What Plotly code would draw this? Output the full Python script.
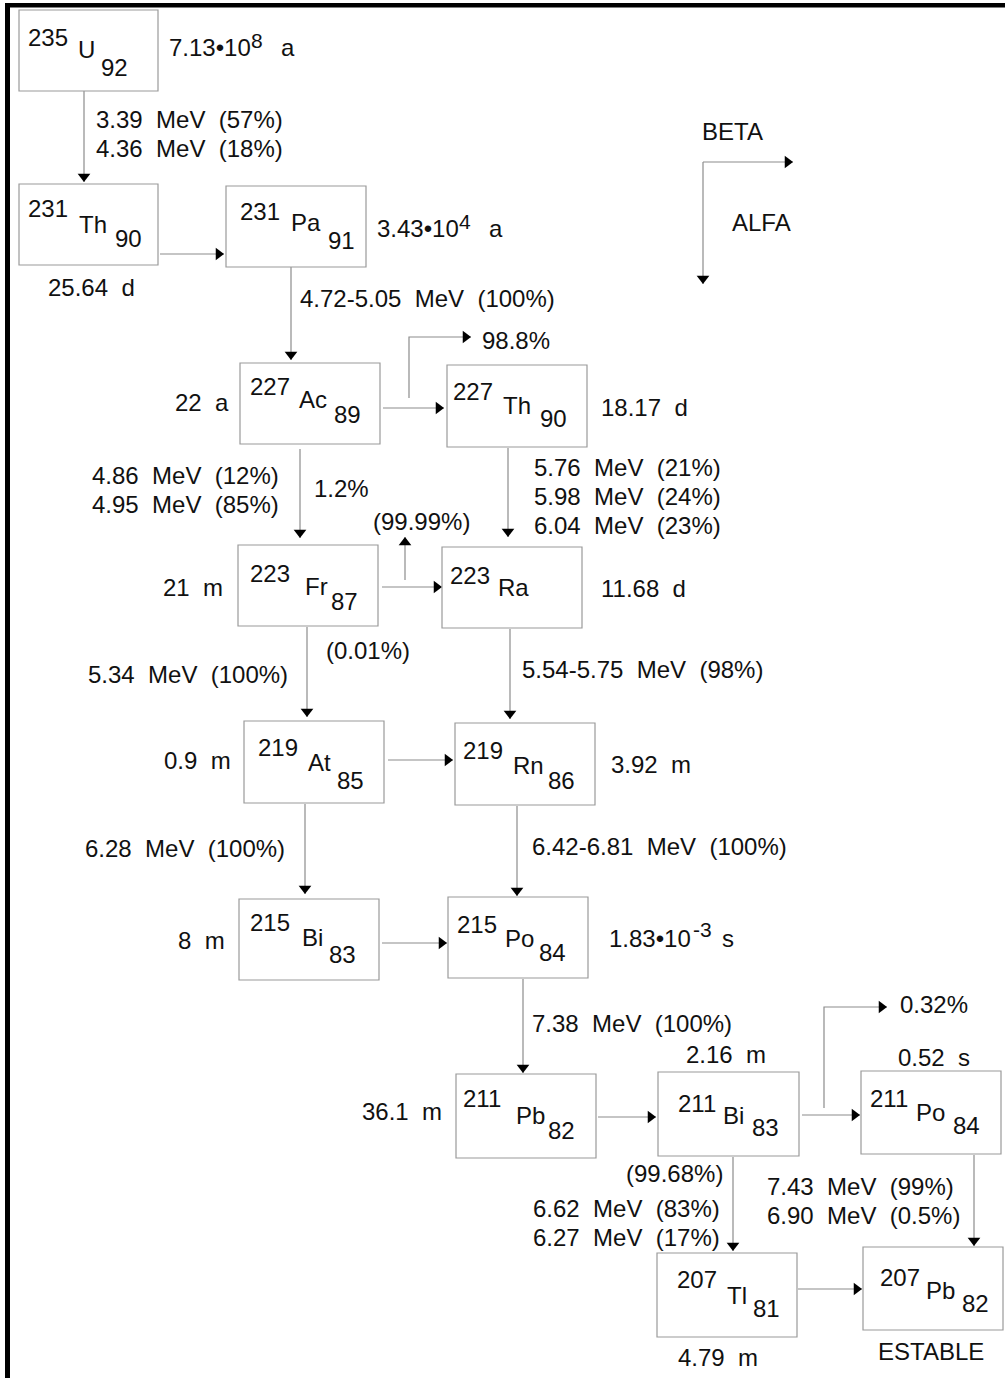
import plotly.graph_objects as go

# ---------------- data ----------------
MASS = [235, 231, 231, 227, 227, 223, 223, 219, 219, 215, 215, 211, 211, 211, 207, 207]
SYMBOL = ["U", "Th", "Pa", "Ac", "Th", "Fr", "Ra", "At", "Rn", "Bi", "Po", "Pb", "Bi", "Po", "Tl", "Pb"]
ZNUM = [92, 90, 91, 89, 90, 87, None, 85, 86, 83, 84, 82, 83, 84, 81, 82]
HALF_LIFE = ["7.13\u202210<sup>8</sup> a", "25.64  d", "3.43\u202210<sup>4</sup> a", "22  a",
             "18.17  d", "21  m", "11.68  d", "0.9  m", "3.92  m", "8  m",
             "1.83\u202210<sup>-3</sup> s", "36.1  m", "2.16  m", "0.52  s", "4.79  m", "ESTABLE"]
DECAY_LABELS = ["3.39  MeV  (57%)", "4.36  MeV  (18%)", "4.72-5.05  MeV  (100%)", "98.8%",
                "4.86  MeV  (12%)", "4.95  MeV  (85%)", "1.2%", "5.76  MeV  (21%)",
                "5.98  MeV  (24%)", "6.04  MeV  (23%)", "(99.99%)", "(0.01%)",
                "5.34  MeV  (100%)", "5.54-5.75  MeV  (98%)", "6.28  MeV  (100%)",
                "6.42-6.81  MeV  (100%)", "7.38  MeV  (100%)", "0.32%", "(99.68%)",
                "6.62  MeV  (83%)", "6.27  MeV  (17%)", "7.43  MeV  (99%)", "6.90  MeV  (0.5%)"]
LEGEND_LABELS = ["BETA", "ALFA"]

# ---------------- layout (pixel positions) ----------------
BOX = [(19, 10, 158, 91), (19, 184, 158, 265), (226, 186, 366, 267), (240, 363, 380, 444),
       (447, 365, 587, 447), (238, 545, 378, 626), (442, 547, 582, 628), (244, 721, 384, 803),
       (455, 723, 595, 805), (239, 899, 379, 980), (448, 897, 588, 978), (456, 1074, 596, 1158),
       (658, 1072, 799, 1156), (861, 1071, 1001, 1154), (657, 1253, 797, 1337), (863, 1247, 1003, 1330)]
MASS_POS = [(28, 37), (28, 208), (240, 211), (250, 386), (453, 391), (250, 573), (450, 575),
            (258, 747), (463, 750), (250, 922), (457, 924), (463, 1098), (678, 1103), (870, 1098),
            (677, 1279), (880, 1277)]
SYM_POS = [(78, 49), (79, 224), (291, 222), (299, 399), (503, 405), (305, 586), (498, 587),
           (308, 762), (513, 765), (302, 937), (505, 938), (516, 1115), (723, 1115), (916, 1112),
           (727, 1295), (926, 1290)]
Z_POS = [(101, 67), (115, 238), (328, 240), (334, 414), (540, 418), (331, 601), None,
         (337, 780), (548, 780), (329, 954), (539, 952), (548, 1130), (752, 1127), (953, 1125),
         (753, 1308), (962, 1303)]
HL_POS = [(232, 45), (91, 287), (441, 227), (202, 402), (644, 407), (193, 587), (643, 588),
          (197, 760), (651, 764), (201, 940), (669, 938), (402, 1111), (726, 1054), (934, 1057),
          (718, 1357), (931, 1351)]
# for powers of ten: (base right x, base cy, exponent left x, exponent cy, unit left x)
POW_POS = {0: (251, 47, 251, 40, 281), 2: (459, 228, 459, 221, 489), 10: (691, 938, 693, 929, 722)}
DL_POS = [(189, 119), (189, 148), (427, 298), (516, 340), (185, 475), (185, 504), (341, 488),
          (627, 467), (627, 496), (627, 525), (421, 521), (368, 650), (188, 674), (642, 669),
          (185, 848), (659, 846), (632, 1023), (934, 1004), (674, 1173), (626, 1208),
          (626, 1237), (860, 1186), (863, 1215)]
LEG_POS = [(732, 131), (761, 222)]
ARROWS = [[(84, 91), (84, 182)], [(160, 254), (224, 254)], [(291, 267), (291, 360)],
          [(383, 408), (444, 408)], [(409, 398), (409, 337), (471, 337)],
          [(300, 449), (300, 538)], [(508, 448), (508, 537)], [(382, 587), (442, 587)],
          [(405, 580), (405, 537)], [(307, 627), (307, 717)], [(510, 629), (510, 719)],
          [(388, 760), (453, 760)], [(305, 804), (305, 894)], [(517, 806), (517, 896)],
          [(382, 943), (447, 943)], [(523, 979), (523, 1073)], [(598, 1117), (656, 1117)],
          [(802, 1115), (860, 1115)], [(824, 1108), (824, 1007), (887, 1007)],
          [(733, 1157), (733, 1251)], [(974, 1155), (974, 1246)], [(798, 1289), (862, 1289)],
          [(703, 162), (703, 284)], [(703, 162), (793, 162)]]

FONT = "Liberation Sans, Arial, sans-serif"
FS = 24
TXT = "#111111"
LINE_C = "#8c8c8c"
BOX_C = "#9a9a9a"
HEAD = 11

fig = go.Figure()
shapes = []
annotations = []

for (x0, y0, x1, y1) in BOX:
    shapes.append(dict(type="rect", xref="x", yref="y", x0=x0, y0=y0, x1=x1, y1=y1,
                       line=dict(color=BOX_C, width=1.2), fillcolor="rgba(0,0,0,0)"))

def ann(text, x, y, anchor="left", size=FS):
    annotations.append(dict(text=text, x=x, y=y, xref="x", yref="y", showarrow=False,
                            xanchor=anchor, yanchor="middle",
                            font=dict(family=FONT, size=size, color=TXT)))

for i in range(len(MASS)):
    ann(str(MASS[i]), MASS_POS[i][0] - 2, MASS_POS[i][1])
    ann(SYMBOL[i], SYM_POS[i][0] - 2, SYM_POS[i][1])
    if ZNUM[i] is not None:
        ann(str(ZNUM[i]), Z_POS[i][0] - 2, Z_POS[i][1])
    hl = HALF_LIFE[i]
    if "<sup>" in hl:
        base, restpart = hl.split("<sup>")
        expo, unit = restpart.split("</sup>")
        bx, by, ex, ey, ux = POW_POS[i]
        ann(base, bx + 2, by, "right")
        ann(expo, ex - 2, ey, "left", size=21)
        ann(unit.strip(), ux - 2, by, "left")
    else:
        ann(hl.replace("  ", "\u00a0\u00a0"), HL_POS[i][0], HL_POS[i][1], "center")

for t, (x, y) in zip(DECAY_LABELS, DL_POS):
    ann(t.replace("  ", "\u00a0\u00a0"), x, y, "center")
for t, (x, y) in zip(LEGEND_LABELS, LEG_POS):
    ann(t, x, y, "center")

# arrows: gray lines with black triangular heads
lx, ly = [], []
heads = {"triangle-down": ([], []), "triangle-up": ([], []), "triangle-right": ([], []),
         "triangle-left": ([], [])}
r = HEAD / 2
for pts in ARROWS:
    for (x, y) in pts:
        lx.append(x); ly.append(y)
    lx.append(None); ly.append(None)
    (xa, ya), (xb, yb) = pts[-2], pts[-1]
    if xa == xb:
        if yb > ya:
            heads["triangle-down"][0].append(xb); heads["triangle-down"][1].append(yb - r)
        else:
            heads["triangle-up"][0].append(xb); heads["triangle-up"][1].append(yb + r)
    else:
        if xb > xa:
            heads["triangle-right"][0].append(xb - r); heads["triangle-right"][1].append(yb)
        else:
            heads["triangle-left"][0].append(xb + r); heads["triangle-left"][1].append(yb)

fig.add_trace(go.Scatter(x=lx, y=ly, mode="lines", line=dict(color=LINE_C, width=1.2),
                         hoverinfo="skip", showlegend=False))
for sym, (hx, hy) in heads.items():
    if hx:
        fig.add_trace(go.Scatter(x=hx, y=hy, mode="markers",
                                 marker=dict(symbol=sym, size=HEAD, color="black",
                                             line=dict(width=0)),
                                 hoverinfo="skip", showlegend=False))

# thick frame (top and left)
shapes.append(dict(type="line", xref="x", yref="y", x0=5, y0=5.3, x1=1010, y1=5.3,
                   line=dict(color="black", width=4.5)))
shapes.append(dict(type="line", xref="x", yref="y", x0=7.5, y0=3, x1=7.5, y1=1390,
                   line=dict(color="black", width=5)))

fig.update_layout(
    width=1005, height=1378, margin=dict(l=0, r=0, t=0, b=0),
    paper_bgcolor="white", plot_bgcolor="white",
    xaxis=dict(range=[0, 1005], visible=False, fixedrange=True),
    yaxis=dict(range=[1378, 0], visible=False, fixedrange=True),
    shapes=shapes, annotations=annotations, showlegend=False,
)
fig.write_html("out.html", config={"displayModeBar": False},
               post_script="document.body.style.margin='0px';document.body.style.overflow='hidden';")
